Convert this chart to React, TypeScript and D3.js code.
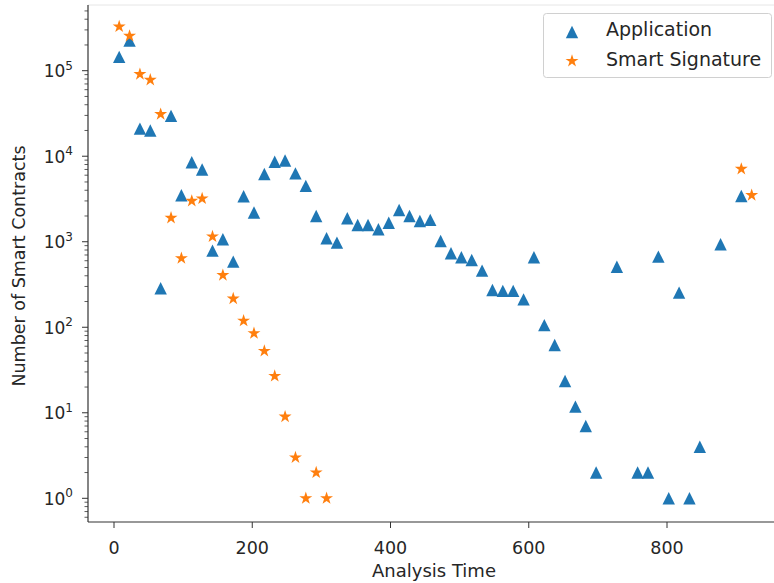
import React, { useEffect, useRef } from 'react';
import * as d3 from 'd3';

// analysis time bins (x) and counts (y)
const appTimes = [7.5, 22.5, 37.5, 52.5, 67.5, 82.5, 97.5, 112.5, 127.5, 142.5, 157.5, 172.5, 187.5, 202.5, 217.5,
  232.5, 247.5, 262.5, 277.5, 292.5, 307.5, 322.5, 337.5, 352.5, 367.5, 382.5, 397.5, 412.5, 427.5, 442.5,
  457.5, 472.5, 487.5, 502.5, 517.5, 532.5, 547.5, 562.5, 577.5, 592.5, 607.5, 622.5, 637.5, 652.5, 667.5,
  682.5, 697.5, 727.5, 757.5, 772.5, 787.5, 802.5, 817.5, 832.5, 847.5, 877.5, 907.5];
const appCounts = [145000, 225000, 21000, 20000, 286, 29600, 3500, 8500, 7000, 787, 1070, 585, 3400, 2200, 6200,
  8600, 8900, 6300, 4500, 2000, 1100, 977, 1880, 1570, 1570, 1400, 1670, 2350, 2000, 1750,
  1800, 1020, 733, 659, 612, 459, 273, 266, 266, 212, 659, 106, 62, 23.5, 11.8,
  7, 2, 511, 2, 2, 670, 1, 254, 1, 4, 935, 3430];

const sigTimes = [7.5, 22.5, 37.5, 52.5, 67.5, 82.5, 97.5, 112.5, 127.5, 142.5, 157.5, 172.5, 187.5, 202.5, 217.5,
  232.5, 247.5, 262.5, 277.5, 292.5, 307.5, 907.5, 922.5];
const sigCounts = [328000, 255000, 91000, 78000, 31000, 1900, 641, 3000, 3200, 1150, 406, 216, 119, 85, 52.8,
  26.9, 9, 3, 1, 2, 1, 7100, 3500];

const xTicks = [0, 200, 400, 600, 800];
const yTicks = [1, 10, 100, 1000, 10000, 100000];

const W = 774;
const H = 583;
const FONT = 'DejaVu Sans, sans-serif';
const BLUE = '#1f77b4';
const ORANGE = '#ff7f0e';
const INK = '#262626';

const triangle = (s: number) => `M0,${-s}L${-s},${s}L${s},${s}Z`;

const App = () => {
  const ref = useRef<SVGSVGElement>(null);

  useEffect(() => {
    const svg = d3.select(ref.current);
    svg.selectAll('*').remove();

    const left = 88, top = 5, bottom = 522;

    const x = d3.scaleLinear().domain([0, 800]).range([114, 667]);
    const y = d3.scaleLog().domain([1, 100000]).range([498.3, 70.7]);

    svg.append('rect').attr('width', W).attr('height', H).attr('fill', '#fff');

    // top spine (faint, as in the picture)
    svg.append('line')
      .attr('x1', left).attr('x2', W).attr('y1', top).attr('y2', top)
      .attr('stroke', '#e6e6e6').attr('stroke-width', 1);

    // minor ticks on the log axis
    const minor: number[] = [];
    for (let e = -1; e <= 5; e++) {
      for (let m = 2; m <= 9; m++) {
        const v = m * Math.pow(10, e);
        const py = y(v);
        if (py >= top && py <= bottom) minor.push(v);
      }
    }
    svg.selectAll('.minor')
      .data(minor)
      .enter().append('line')
      .attr('x1', left - 3.5).attr('x2', left)
      .attr('y1', d => y(d)).attr('y2', d => y(d))
      .attr('stroke', '#333').attr('stroke-width', 0.8);

    svg.selectAll('.ymaj')
      .data(yTicks)
      .enter().append('line')
      .attr('x1', left - 6).attr('x2', left)
      .attr('y1', d => y(d)).attr('y2', d => y(d))
      .attr('stroke', '#333').attr('stroke-width', 1);

    const yl = svg.selectAll('.ylab')
      .data(yTicks)
      .enter().append('text')
      .attr('x', 73)
      .attr('y', d => y(d) + 6.5)
      .attr('text-anchor', 'end')
      .attr('font-family', FONT)
      .attr('font-size', 17)
      .attr('fill', INK);
    yl.append('tspan').text('10');
    yl.append('tspan')
      .attr('dy', -7.5)
      .attr('font-size', 12)
      .text((d, i) => String(i));

    svg.selectAll('.xmaj')
      .data(xTicks)
      .enter().append('line')
      .attr('x1', d => x(d)).attr('x2', d => x(d))
      .attr('y1', bottom).attr('y2', bottom + 6)
      .attr('stroke', '#333').attr('stroke-width', 1);

    svg.selectAll('.xlab')
      .data(xTicks)
      .enter().append('text')
      .attr('x', d => x(d))
      .attr('y', 554)
      .attr('text-anchor', 'middle')
      .attr('font-family', FONT)
      .attr('font-size', 17.5)
      .attr('fill', INK)
      .text(d => d);

    // spines
    svg.append('line')
      .attr('x1', left).attr('x2', left).attr('y1', top).attr('y2', bottom)
      .attr('stroke', '#333').attr('stroke-width', 1.2);
    svg.append('line')
      .attr('x1', left).attr('x2', W).attr('y1', bottom).attr('y2', bottom)
      .attr('stroke', '#333').attr('stroke-width', 1.2);

    svg.append('text')
      .attr('x', 434).attr('y', 577)
      .attr('text-anchor', 'middle')
      .attr('font-family', FONT).attr('font-size', 18).attr('fill', INK)
      .text('Analysis Time');

    svg.append('text')
      .attr('transform', 'translate(25,266) rotate(-90)')
      .attr('text-anchor', 'middle')
      .attr('font-family', FONT).attr('font-size', 17.5).attr('fill', INK)
      .text('Number of Smart Contracts');

    const app = appTimes.map((t, i) => ({ t, c: appCounts[i] }));
    const sig = sigTimes.map((t, i) => ({ t, c: sigCounts[i] }));

    svg.selectAll('.app')
      .data(app)
      .enter().append('path')
      .attr('d', triangle(6.2))
      .attr('transform', d => `translate(${x(d.t)},${y(d.c)})`)
      .attr('fill', BLUE);

    const star = d3.symbol().type(d3.symbolStar).size(52);
    svg.selectAll('.sig')
      .data(sig)
      .enter().append('path')
      .attr('d', star())
      .attr('transform', d => `translate(${x(d.t)},${y(d.c)})`)
      .attr('fill', ORANGE);

    // legend
    const lg = svg.append('g');
    lg.append('rect')
      .attr('x', 543.5).attr('y', 13.5).attr('width', 228).attr('height', 64)
      .attr('rx', 3)
      .attr('fill', '#fff').attr('fill-opacity', 0.8)
      .attr('stroke', '#d0d0d0');
    lg.append('path').attr('d', triangle(6.2)).attr('transform', 'translate(572,32)').attr('fill', BLUE);
    lg.append('path').attr('d', star()).attr('transform', 'translate(572,61)').attr('fill', ORANGE);
    lg.append('text').attr('x', 606).attr('y', 36)
      .attr('font-family', FONT).attr('font-size', 19).attr('fill', INK)
      .text('Application');
    lg.append('text').attr('x', 606).attr('y', 66)
      .attr('font-family', FONT).attr('font-size', 19).attr('fill', INK)
      .text('Smart Signature');
  }, []);

  return <svg ref={ref} width={W} height={H} style={{ position: 'absolute', left: 0, top: 0 }} />;
};

export default App;
